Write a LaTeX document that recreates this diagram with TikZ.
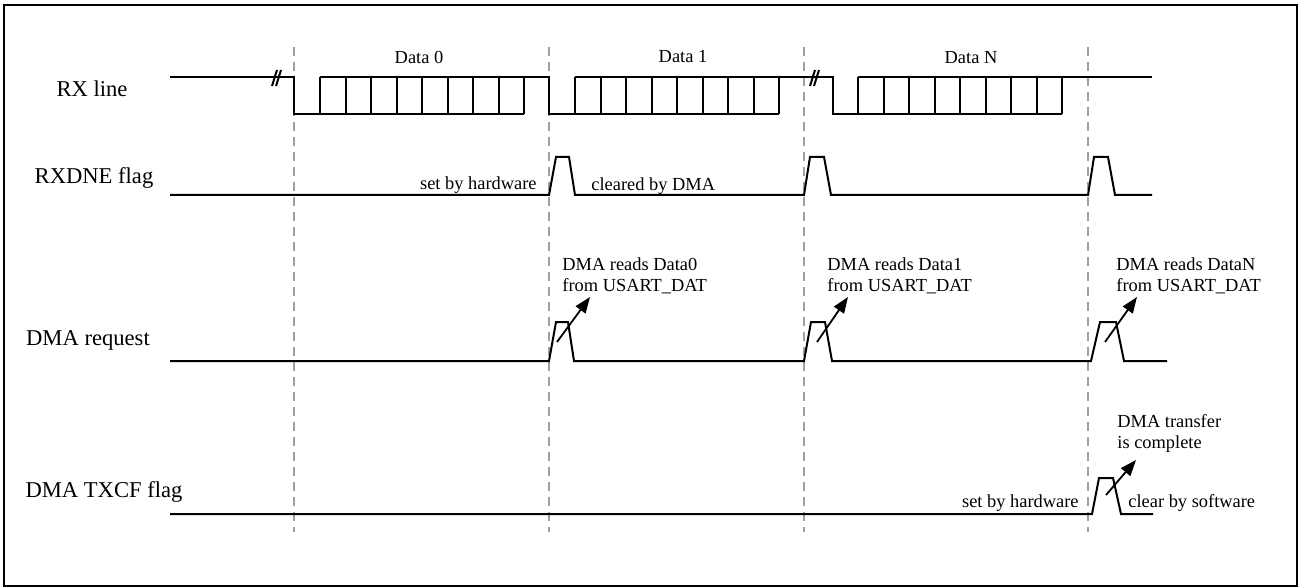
\documentclass[tikz,border=0pt]{standalone}
\usepackage{fontspec}
\setmainfont{Liberation Serif}
\usepackage{tikz}
\usetikzlibrary{arrows.meta,positioning}
\definecolor{dashgray}{HTML}{A0A0A0}

\begin{document}
\begin{tikzpicture}[
  x=0.5pt,y=-0.5pt,
  sig/.style={line width=1pt,line join=miter},
  grid/.style={draw=dashgray,line width=0.6pt,dash pattern=on 4.5pt off 3pt},
  lbl/.style={font=\fontsize{11.3}{13}\selectfont,inner sep=0pt},
  note/.style={font=\fontsize{9.2}{10.5}\selectfont,inner sep=0pt,align=left},
  arr/.style={-{Triangle[length=8pt,width=6pt]},line width=0.9pt}
]
\useasboundingbox (0,0) rectangle (1300,588);
\draw[line width=0.8pt] (4,5) rectangle (1297,586);

% signal names
\node[lbl] (rx) at (92,89) {RX line};
\node[lbl] (rxdne) at (94,178) {RXDNE flag};
\node[lbl] (dmareq) at (88,340) {DMA request};
\node[lbl] (txcf) at (104,492) {DMA TXCF flag};

% frame boundaries
\foreach \x in {294,549,804,1088}
  \draw[grid] (\x,47) -- (\x,532);

% RX line
\node[note] (d0) at (419,57) {Data 0};
\node[note] (d1) at (683,57) {Data 1};
\node[note] (dn) at (971,58) {Data N};
\draw[sig] (170,77) -- (294,77) -- (294,114) -- (524,114);
\draw[sig] (320,77) -- (549,77) -- (549,114) -- (779,114);
\draw[sig] (575,77) -- (833,77) -- (833,114) -- (1062,114);
\draw[sig] (858,77) -- (1152,77);
\foreach \s in {320,575,858}
  \foreach \k in {0,...,8}
    \draw[sig] (\s+\k*25.5,77) -- ++(0,37);
\draw[sig] (272,86) -- (277,70) (276,86) -- (281,70);
\draw[sig] (810,86) -- (815,70) (814,86) -- (819,70);

% RXDNE flag
\draw[sig] (170,195) -- (549,195) -- ++(7,-38) -- ++(13,0) -- ++(6,38)
  -- (804,195) -- ++(6,-38) -- ++(14,0) -- ++(7,38)
  -- (1088,195) -- ++(6,-38) -- ++(14,0) -- ++(7,38) -- (1152,195);
\node[note,anchor=east] (sethw1) at (537,185) {set by hardware};
\node[note,anchor=west] (clrdma) at (591,186) {cleared by DMA};

% DMA request
\draw[sig] (170,361) -- (549,361) -- ++(7,-39) -- ++(12,0) -- ++(6,39)
  -- (804,361) -- ++(7,-39) -- ++(14,0) -- ++(7,39)
  -- (1091,361) -- ++(9,-39) -- ++(16,0) -- ++(8,39) -- (1167,361);
\node[note,anchor=west] (rd0) at (562,275.5) {DMA reads Data0\\from USART\_DAT};
\node[note,anchor=west] (rd1) at (827,275.5) {DMA reads Data1\\from USART\_DAT};
\node[note,anchor=west] (rdn) at (1116,275.5) {DMA reads DataN\\from USART\_DAT};
\coordinate (p0) at (557,342);
\coordinate (h0) at (590,297);
\coordinate (p1) at (817,342);
\coordinate (h1) at (848,297);
\coordinate (pn) at (1105,342);
\coordinate (hn) at (1137,297);
\draw[arr] (p0) -- (h0);
\draw[arr] (p1) -- (h1);
\draw[arr] (pn) -- (hn);

% DMA TXCF flag
\draw[sig] (170,514) -- (1092,514) -- ++(7,-36) -- ++(14,0) -- ++(8,36) -- (1153,514);
\node[note,anchor=west] (done) at (1117,433.5) {DMA transfer\\is complete};
\node[note,anchor=east] (sethw2) at (1079,503) {set by hardware};
\node[note,anchor=west] (clrsw) at (1128,503) {clear by software};
\coordinate (pt) at (1106,495);
\coordinate (ht) at (1136,460);
\draw[arr] (pt) -- (ht);
\end{tikzpicture}
\end{document}
